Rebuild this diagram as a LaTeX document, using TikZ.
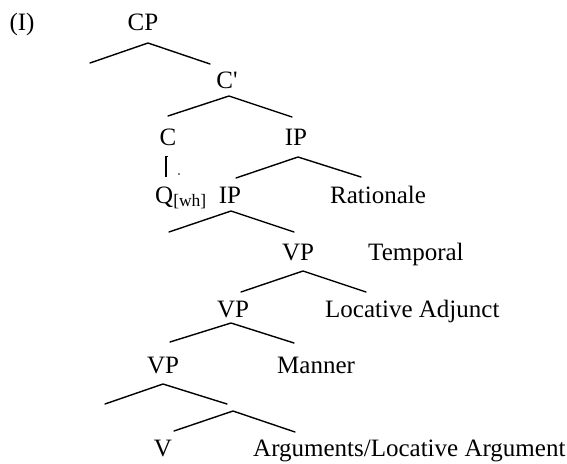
\documentclass[tikz,border=0pt]{standalone}
\usepackage{fontspec}
\setmainfont{Liberation Serif}
\begin{document}
\begin{tikzpicture}[x=1pt,y=-1pt,
  lbl/.style={inner sep=0pt, font=\fontsize{25}{30}\selectfont},
  cat/.style={lbl, anchor=base},
  adj/.style={lbl, anchor=base west},
  branch/.style={line width=1.4pt, line cap=round}]
\useasboundingbox (0,0) rectangle (567,463);
% labels
\node[cat] (ex) at (22,30) {(I)};
\node[cat] (cp) at (143,30) {CP};
\node[cat] (cbar) at (227,88) {C\textquotesingle};
\node[cat] (c) at (168,145) {C};
\node[cat] (ip) at (296,145) {IP};
\node[lbl, anchor=base west] (q) at (155,203) {Q\textsubscript{[wh]}};
\node[cat] (ip2) at (230,203) {IP};
\node[adj] (rat) at (330,203) {Rationale};
\node[cat] (vp1) at (298,260) {VP};
\node[adj] (tmp) at (368,260) {Temporal};
\node[cat] (vp2) at (233,317) {VP};
\node[adj] (loc) at (325,317) {Locative Adjunct};
\node[cat] (vp3) at (163,373) {VP};
\node[adj] (man) at (277,373) {Manner};
\node[cat] (v) at (163,456) {V};
\node[adj] (arg) at (253,456) {Arguments/Locative Argument};
% branch points
\coordinate (a1) at (148,43);  \coordinate (l1) at (90,63);   \coordinate (r1) at (210,64);
\coordinate (a2) at (229,96);  \coordinate (l2) at (168,116); \coordinate (r2) at (292,117);
\coordinate (a3) at (298,157); \coordinate (l3) at (236,178); \coordinate (r3) at (361,177);
\coordinate (a4) at (231,211); \coordinate (l4) at (169,232); \coordinate (r4) at (294,232);
\coordinate (a5) at (303,271); \coordinate (l5) at (241,292); \coordinate (r5) at (366,292);
\coordinate (a6) at (231,323); \coordinate (l6) at (170,342); \coordinate (r6) at (294,343);
\coordinate (a7) at (163,384); \coordinate (l7) at (105,404); \coordinate (r7) at (227,404);
\coordinate (a8) at (233,411); \coordinate (l8) at (174,431); \coordinate (r8) at (295,432);
\foreach \i in {1,...,8}{\draw[branch] (l\i) -- (a\i) -- (r\i);}
% C - Q link
\coordinate (ct) at (166,156); \coordinate (cb) at (166,177);
\draw[line width=1.4pt] (ct) -- (cb);
\draw[line width=0.8pt] (ct) -- ++(2,0);
\fill (179,174) circle (0.9);
\end{tikzpicture}
\end{document}
